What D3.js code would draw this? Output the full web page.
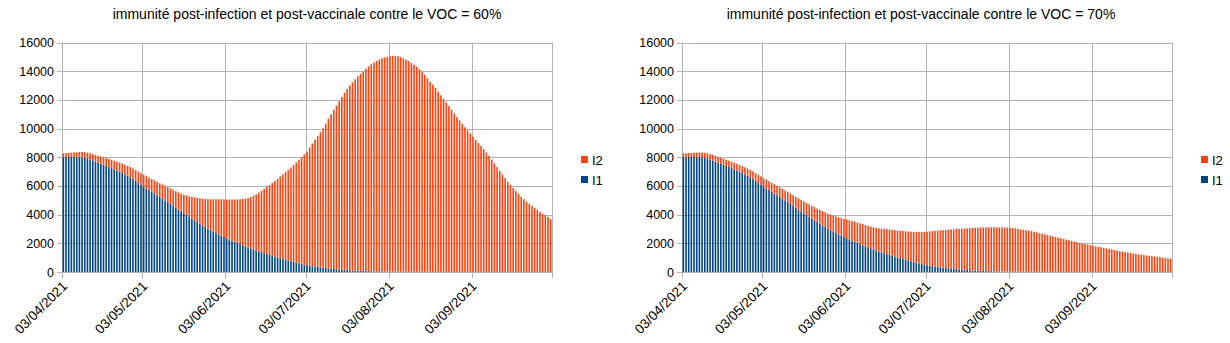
<!DOCTYPE html>
<html><head><meta charset="utf-8">
<script src="https://cdn.jsdelivr.net/npm/d3@7"></script>
<style>
body{margin:0;background:#fff}
svg text{font-family:"Liberation Sans",Arial,sans-serif;fill:#000}
</style>
</head><body>
<svg id="chart" width="1230" height="343"></svg>
<script>
// ---------- data ----------
const startDate = "03/04/2021";
const dayCount = 183;
const tickLabels = ["03/04/2021","03/05/2021","03/06/2021","03/07/2021","03/08/2021","03/09/2021"];
const endLabel = "03/10/2021";
const yTicks = [0,2000,4000,6000,8000,10000,12000,14000,16000];
const titles = ["immunité post-infection et post-vaccinale contre le VOC = 60%",
                "immunité post-infection et post-vaccinale contre le VOC = 70%"];
const seriesNames = ["I1","I2"];
const legendOrder = ["I2","I1"];

const i1 = [
 8000,8000,8010,8010,8010,8000,8000,7990,7960,7920,
 7850,7780,7700,7620,7550,7480,7400,7320,7240,7160,
 7080,6990,6900,6800,6700,6600,6480,6350,6220,6090,
 5950,5830,5710,5590,5470,5350,5230,5110,4990,4870,
 4740,4610,4480,4350,4220,4090,3970,3850,3730,3610,
 3490,3370,3250,3140,3030,2920,2820,2720,2620,2530,
 2440,2350,2270,2190,2110,2030,1950,1870,1790,1720,
 1650,1580,1510,1440,1380,1310,1250,1190,1130,1070,
 1010,960,910,860,810,760,710,660,610,560,
 510,470,440,410,380,350,320,300,280,260,
 240,220,200,180,165,150,135,120,110,100,
 90,80,70,65,60,55,50,45,40,36,
 32,28,25,22,20,18,16,14,12,11,
 10,9,8,8,7,7,6,6,5,5,
 5,4,4,4,3,3,3,3,2,2,
 2,2,2,2,1,1,1,1,1,1,
 1,1,1,1,1,0,0,0,0,0,
 0,0,0,0,0,0,0,0,0,0,0,0,0
];

const i2_voc60 = [
 270,285,300,315,330,345,360,375,390,405,
 420,440,460,480,500,520,540,560,580,600,
 620,640,660,680,700,720,740,760,780,805,
 830,850,870,890,915,940,965,990,1020,1050,
 1080,1120,1160,1200,1250,1300,1360,1420,1510,1590,
 1680,1770,1860,1950,2050,2150,2250,2350,2450,2540,
 2620,2700,2780,2860,2940,3030,3120,3220,3320,3430,
 3580,3740,3910,4090,4280,4480,4680,4870,5070,5280,
 5490,5700,5900,6100,6310,6530,6750,6980,7220,7450,
 7690,7920,8240,8550,8840,9120,9420,9720,10060,10430,
 10750,11070,11400,11720,12035,12340,12625,12880,13120,13340,
 13550,13740,13920,14095,14270,14435,14550,14665,14770,14864,
 14928,14982,15025,15048,15050,15032,14964,14886,14788,14689,
 14570,14441,14302,14142,13953,13733,13494,13264,13055,12835,
 12575,12316,12066,11816,11557,11307,11047,10797,10558,10318,
 10088,9868,9648,9428,9209,8989,8779,8559,8329,8089,
 7829,7569,7309,7049,6789,6540,6290,6070,5860,5650,
 5450,5250,5080,4910,4760,4620,4480,4340,4200,4070,
 3960,3850,3680
];

const i2_voc70 = [
 270,280,290,300,310,320,330,340,350,360,
 370,380,390,400,410,420,430,440,450,460,
 470,480,490,500,510,520,530,545,560,575,
 590,610,620,630,640,655,670,685,700,715,
 730,750,770,790,810,830,850,870,890,910,
 935,960,990,1020,1050,1080,1110,1150,1190,1230,
 1270,1310,1340,1370,1400,1420,1440,1460,1480,1500,
 1520,1530,1570,1610,1640,1690,1730,1770,1810,1850,
 1890,1920,1950,1980,2010,2050,2090,2130,2180,2230,
 2290,2340,2390,2440,2490,2530,2580,2620,2650,2690,
 2730,2760,2800,2830,2855,2880,2905,2930,2960,2980,
 3000,3020,3040,3045,3050,3065,3070,3065,3070,3074,
 3068,3062,3055,3038,3020,2982,2954,2926,2898,2869,
 2840,2801,2752,2702,2663,2613,2574,2524,2475,2435,
 2385,2346,2296,2256,2207,2167,2117,2077,2028,1988,
 1948,1908,1868,1828,1789,1749,1719,1679,1639,1599,
 1569,1529,1489,1449,1419,1390,1360,1320,1290,1260,
 1230,1200,1180,1150,1130,1100,1080,1050,1030,1000,
 980,950,930
];

const colors = {I1:"#004586", I2:"#ff420e"};

// ---------- drawing ----------
const svg = d3.select("#chart");
const parse = d3.utcParse("%d/%m/%Y");
const start = parse(startDate);
const days = d3.utcDay.range(start, d3.utcDay.offset(start, dayCount));
const tickDates = tickLabels.map(parse);
const endDate = parse(endLabel);

const panels = [
  {offset:0, title:titles[0], I2:i2_voc60, titleX:307},
  {offset:620, title:titles[1], I2:i2_voc70, titleX:921}
];

const plotL = 62, plotR = 552, plotT = 42.5, plotB = 272;
const grid = "#b3b3b3";

panels.forEach(p => {
  const g = svg.append("g").attr("transform", `translate(${p.offset},0)`);
  const x = d3.scaleUtc().domain([start, endDate]).range([plotL, plotR]);
  const y = d3.scaleLinear().domain([0,16000]).range([plotB, plotT]);
  const slot = x(days[1]) - x(days[0]);

  // title
  g.append("text").attr("x", p.titleX - p.offset).attr("y", 19)
    .attr("text-anchor","middle").style("font-size","14px").text(p.title);

  // horizontal grid
  g.append("g").selectAll("line").data(yTicks).join("line")
    .attr("x1", plotL - 5).attr("x2", plotR)
    .attr("y1", d => Math.round(y(d)) + 0.5).attr("y2", d => Math.round(y(d)) + 0.5)
    .attr("stroke", grid).attr("stroke-width",1);
  // vertical grid
  g.append("g").selectAll("line").data(tickDates.concat([endDate])).join("line")
    .attr("x1", d => Math.round(x(d)) + 0.5).attr("x2", d => Math.round(x(d)) + 0.5)
    .attr("y1", plotT).attr("y2", plotB + 6)
    .attr("stroke", grid).attr("stroke-width",1);

  // stacked bars
  const rows = days.map((d,i) => ({date:d, I1:i1[i], I2:p.I2[i]}));
  const stack = d3.stack().keys(seriesNames)(rows);
  g.append("g").selectAll("g").data(stack).join("g")
    .attr("fill", s => colors[s.key])
    .selectAll("rect").data(s => s).join("rect")
      .attr("x", d => x(d.data.date) + slot*0.2)
      .attr("width", slot*0.6)
      .attr("y", d => y(d[1]))
      .attr("height", d => Math.max(0, y(d[0]) - y(d[1])));

  // y labels
  g.append("g").selectAll("text").data(yTicks).join("text")
    .attr("x", 54).attr("y", d => y(d)).attr("dy","0.36em")
    .attr("text-anchor","end").style("font-size","12.5px").text(d => d);

  // x labels
  g.append("g").selectAll("text").data(tickDates).join("text")
    .attr("transform", (d) => `translate(${x(d)+6},${plotB+15}) rotate(-45)`)
    .attr("text-anchor","end").style("font-size","13.5px")
    .text((d,i) => tickLabels[i]);

  // legend
  const lg = g.append("g");
  legendOrder.forEach((k,i) => {
    lg.append("rect").attr("x", 581).attr("y", 156 + i*20).attr("width",7).attr("height",7)
      .attr("fill", colors[k]);
    lg.append("text").attr("x", 592).attr("y", 160 + i*20).attr("dy","0.36em")
      .style("font-size","13px").text(k);
  });
});
</script>
</body></html>
